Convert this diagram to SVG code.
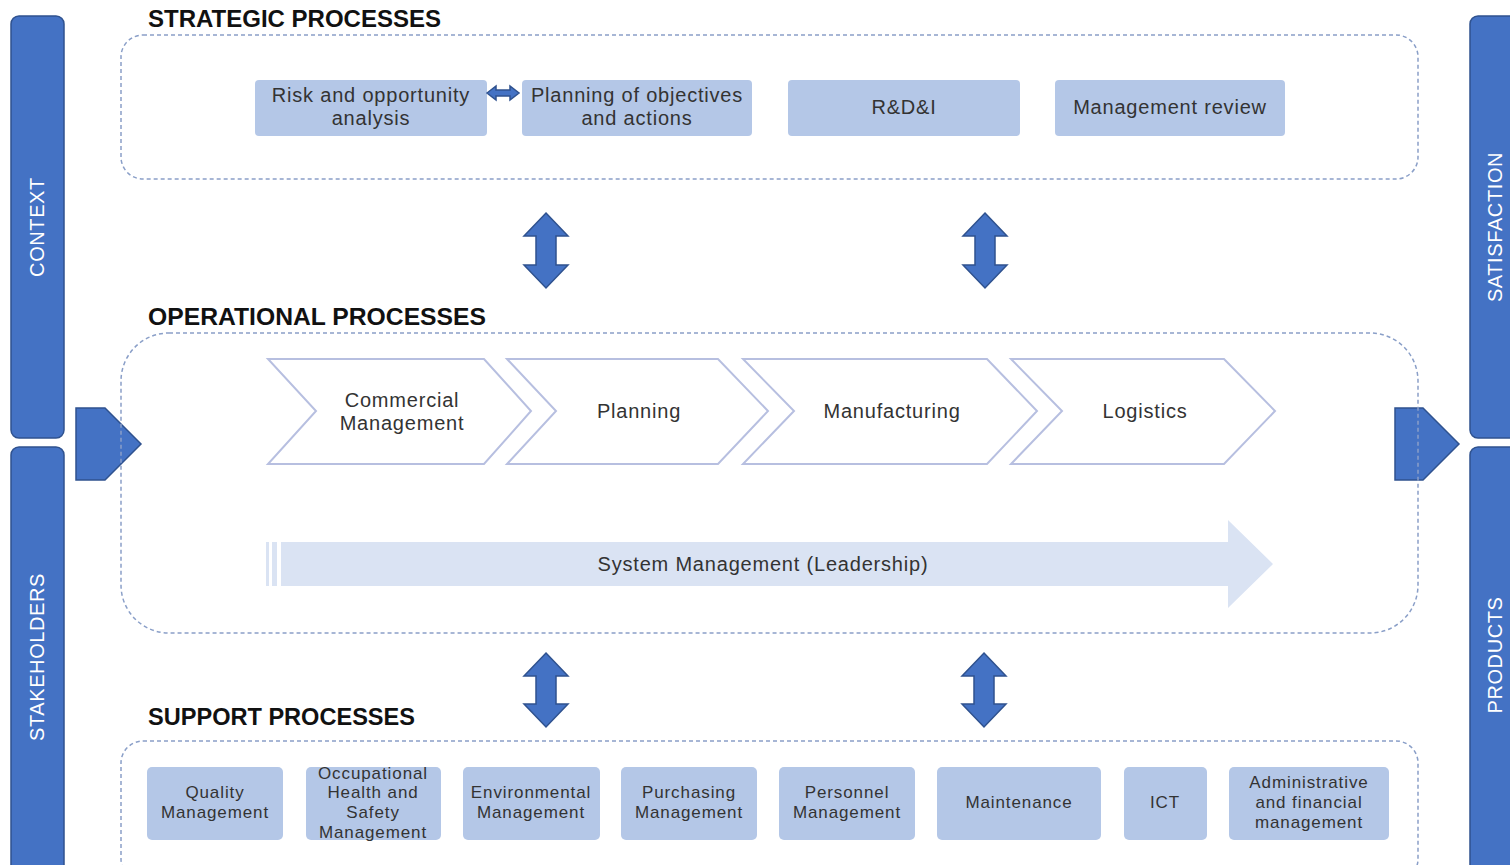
<svg xmlns="http://www.w3.org/2000/svg" width="1510" height="865" viewBox="0 0 1510 865">
<style>
.bar{fill:#4472C4;stroke:#2F528F;stroke-width:1.5}
.side{font-family:"Liberation Sans",Arial,sans-serif;font-size:20px;fill:#fff;text-anchor:middle;letter-spacing:0.6px}
.title{font-family:"Liberation Sans",Arial,sans-serif;font-size:23px;font-weight:bold;fill:#111}
.grp{fill:none;stroke:#8A9FC8;stroke-width:1.5;stroke-dasharray:4 3}
.box{fill:#B4C7E7}
.t{font-family:"Liberation Sans",Arial,sans-serif;font-size:20px;fill:#333;text-anchor:middle;letter-spacing:0.8px}
.ts{font-family:"Liberation Sans",Arial,sans-serif;font-size:17px;fill:#333;text-anchor:middle;letter-spacing:0.9px}
.chev{fill:#fff;stroke:#B7BFE0;stroke-width:2}
.va{fill:#4472C4;stroke:#2F528F;stroke-width:1.5}
</style>
<rect width="1510" height="865" fill="#fff"/>
<g id="context"><rect class="bar" x="11" y="16" width="53" height="422" rx="8"/><text class="side" transform="translate(44,227) rotate(-90)">CONTEXT</text></g>
<g id="stakeholders"><rect class="bar" x="11" y="447" width="53" height="430" rx="8"/><text class="side" transform="translate(44,657) rotate(-90)">STAKEHOLDERS</text></g>
<g id="satisfaction"><rect class="bar" x="1470" y="16" width="60" height="422" rx="8"/><text class="side" transform="translate(1502,227) rotate(-90)">SATISFACTION</text></g>
<g id="products"><rect class="bar" x="1470" y="447" width="60" height="430" rx="8"/><text class="side" transform="translate(1502,655) rotate(-90)">PRODUCTS</text></g>
<g id="in-arrow"><polygon class="bar" points="76,408 105,408 141,444 105,480 76,480"/></g>
<g id="out-arrow"><polygon class="bar" points="1395,408 1423,408 1459,444 1423,480 1395,480"/></g>

<g id="strategic">
<text class="title" x="148" y="27" textLength="293" lengthAdjust="spacingAndGlyphs">STRATEGIC PROCESSES</text>
<rect class="grp" x="121" y="35" width="1297" height="144" rx="22"/>
</g>
<g id="risk"><rect class="box" x="255" y="80" width="232" height="56" rx="4"/><text class="t" x="371" y="102">Risk and opportunity</text><text class="t" x="371" y="125">analysis</text></g>
<g id="planobj"><rect class="box" x="522" y="80" width="230" height="56" rx="4"/><text class="t" x="637" y="102">Planning of objectives</text><text class="t" x="637" y="125">and actions</text></g>
<g id="rdi"><rect class="box" x="788" y="80" width="232" height="56" rx="4"/><text class="t" x="904" y="114">R&amp;D&amp;I</text></g>
<g id="review"><rect class="box" x="1055" y="80" width="230" height="56" rx="4"/><text class="t" x="1170" y="114">Management review</text></g>

<g id="operational">
<text class="title" x="148" y="325" textLength="338" lengthAdjust="spacingAndGlyphs">OPERATIONAL PROCESSES</text>
<rect class="grp" x="121" y="333" width="1297" height="300" rx="48"/>
</g>
<g id="commercial"><polygon class="chev" points="268,359 484,359 531,411 484,464 268,464 316,411"/><text class="t" x="402" y="407">Commercial</text><text class="t" x="402" y="430">Management</text></g>
<g id="planning"><polygon class="chev" points="507,359 718,359 768,411 718,464 507,464 556,411"/><text class="t" x="639" y="418">Planning</text></g>
<g id="manufacturing"><polygon class="chev" points="743,359 987,359 1037,411 987,464 743,464 794,411"/><text class="t" x="892" y="418">Manufacturing</text></g>
<g id="logistics"><polygon class="chev" points="1011,359 1224,359 1275,411 1224,464 1011,464 1062,411"/><text class="t" x="1145" y="418">Logistics</text></g>
<g id="system">
<rect x="266" y="542" width="3" height="44" fill="#DAE3F3"/>
<rect x="272" y="542" width="5" height="44" fill="#DAE3F3"/>
<polygon points="281,542 1228,542 1228,520 1273,564 1228,608 1228,586 281,586" fill="#DAE3F3"/>
<text class="t" x="763" y="571">System Management (Leadership)</text>
</g>

<g id="support">
<text class="title" x="148" y="725" textLength="267" lengthAdjust="spacingAndGlyphs">SUPPORT PROCESSES</text>
<rect class="grp" x="121" y="741" width="1297" height="140" rx="22"/>
</g>
<g id="quality"><rect class="box" x="147" y="767" width="136" height="73" rx="5"/><text class="ts" x="215" y="798">Quality</text><text class="ts" x="215" y="818">Management</text></g>
<g id="ohs"><rect class="box" x="306" y="767" width="135" height="73" rx="5"/><text class="ts" x="373" y="779">Occupational</text><text class="ts" x="373" y="798">Health and</text><text class="ts" x="373" y="818">Safety</text><text class="ts" x="373" y="838">Management</text></g>
<g id="environmental"><rect class="box" x="463" y="767" width="137" height="73" rx="5"/><text class="ts" x="531" y="798">Environmental</text><text class="ts" x="531" y="818">Management</text></g>
<g id="purchasing"><rect class="box" x="621" y="767" width="136" height="73" rx="5"/><text class="ts" x="689" y="798">Purchasing</text><text class="ts" x="689" y="818">Management</text></g>
<g id="personnel"><rect class="box" x="779" y="767" width="136" height="73" rx="5"/><text class="ts" x="847" y="798">Personnel</text><text class="ts" x="847" y="818">Management</text></g>
<g id="maintenance"><rect class="box" x="937" y="767" width="164" height="73" rx="5"/><text class="ts" x="1019" y="808">Maintenance</text></g>
<g id="ict"><rect class="box" x="1124" y="767" width="83" height="73" rx="5"/><text class="ts" x="1165" y="808">ICT</text></g>
<g id="admin"><rect class="box" x="1229" y="767" width="160" height="73" rx="5"/><text class="ts" x="1309" y="788">Administrative</text><text class="ts" x="1309" y="808">and financial</text><text class="ts" x="1309" y="828">management</text></g>

<g id="connectors">
<polygon class="va" points="487,93 496,86 496,90 510,90 510,86 519,93 510,100 510,96 496,96 496,100" stroke-width="1"/>
<polygon class="va" points="546,213 568,236 556,236 556,265 568,265 546,288 524,265 536,265 536,236 524,236"/>
<polygon class="va" points="985,213 1007,236 995,236 995,265 1007,265 985,288 963,265 975,265 975,236 963,236"/>
<polygon class="va" points="546,653 568,676 556,676 556,704 568,704 546,727 524,704 536,704 536,676 524,676"/>
<polygon class="va" points="984,653 1006,676 994,676 994,704 1006,704 984,727 962,704 974,704 974,676 962,676"/>
</g>
</svg>
